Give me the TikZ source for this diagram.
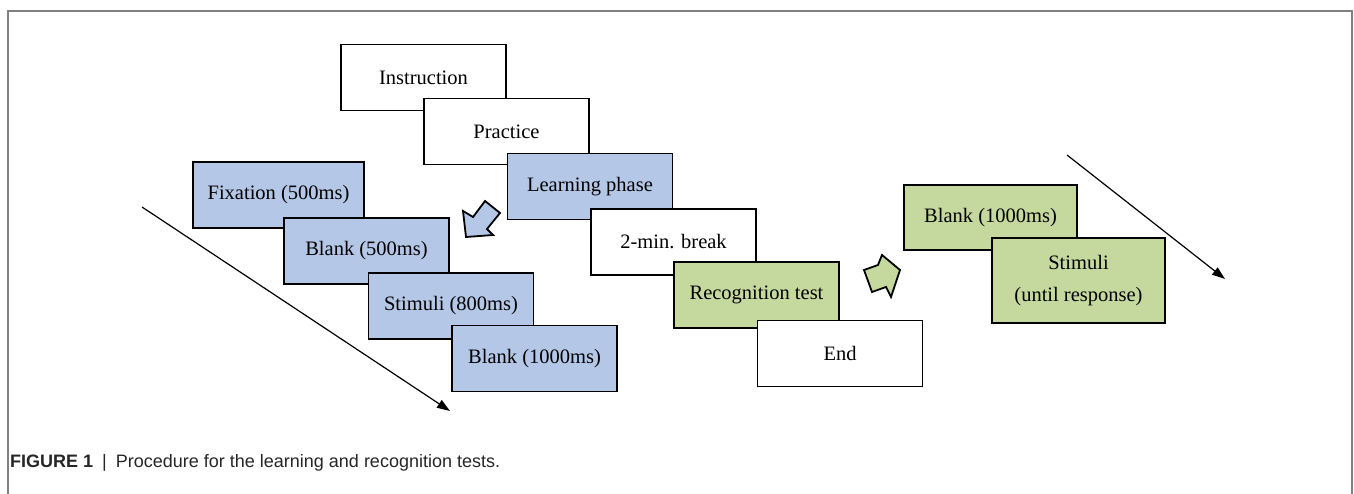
\documentclass[tikz,border=0pt]{standalone}
\usepackage{fontspec}
\setmainfont{Liberation Serif}
\newfontfamily\capfont{Liberation Sans}
\usetikzlibrary{arrows.meta}
\definecolor{blueF}{HTML}{B4C7E7}
\definecolor{greenF}{HTML}{C5D99E}
\definecolor{frameC}{HTML}{808080}
\begin{document}
\begin{tikzpicture}[x=1pt,y=-1pt,
  card/.style={draw=black, line width=1.8pt, fill=white, minimum width=165pt, minimum height=66pt, inner sep=0pt, font=\fontsize{20.5}{32}\selectfont, align=center},
  bluecard/.style={card, fill=blueF},
  greencard/.style={card, fill=greenF},
  timeline/.style={line width=1.2pt, -{Triangle[length=13pt,width=9pt]}},
  blockarrow/.style={draw=black, line width=1.8pt, line join=miter}
]
\useasboundingbox (0,0) rectangle (1354,494);
% frame
\draw[frameC, line width=2pt] (8.3,494) -- (8.3,10.7) -- (1352.3,10.7) -- (1352.3,494);

% main sequence
\node[card] (instr) at (423.5,77.5) {Instruction};
\node[card] (prac) at (506.5,131.5) {Practice};
\node[bluecard] (learn) at (590,186.5) {Learning phase};
\node[card] (brk) at (673.5,242) {2-min. break};
\node[greencard] (recog) at (756.5,295) {Recognition test};
\node[card] (end) at (840,353.5) {End};

% learning trial
\node[bluecard, minimum width=171pt] (fix) at (278.5,195) {Fixation (500ms)};
\node[bluecard] (blank1) at (366.5,251) {Blank (500ms)};
\node[bluecard] (stim1) at (451,306) {Stimuli (800ms)};
\node[bluecard] (blank2) at (534.5,358.5) {Blank (1000ms)};

% recognition trial
\node[greencard, minimum width=173pt, minimum height=65pt] (blank3) at (990.5,217.5) {Blank (1000ms)};
\node[greencard, minimum width=173pt, minimum height=85pt] (stim2) at (1078.5,280.5) {Stimuli\\(until response)};

% time lines
\coordinate (t1s) at (142,207);
\coordinate (t1e) at (450,411);
\draw[timeline] (t1s) -- (t1e);
\coordinate (t2s) at (1067,155);
\coordinate (t2e) at (1225,279);
\draw[timeline] (t2s) -- (t2e);

% block arrows
\draw[blockarrow, fill=blueF] (463,211) -- (466,237) -- (493,235) -- (487,229) -- (500,213) -- (485,201) -- (473,217) -- cycle;
\draw[blockarrow, fill=greenF] (864,270) -- (878,265) -- (882,255) -- (900,270) -- (891,297) -- (886,287) -- (872,292) -- cycle;

% caption
\node[anchor=base west, inner sep=0pt, font=\capfont\fontsize{18}{20}\selectfont, text=black!85] (cap) at (10,467) {\textbf{FIGURE 1}\hspace{9pt}|\hspace{9pt}Procedure for the learning and recognition tests.};
\end{tikzpicture}
\end{document}
